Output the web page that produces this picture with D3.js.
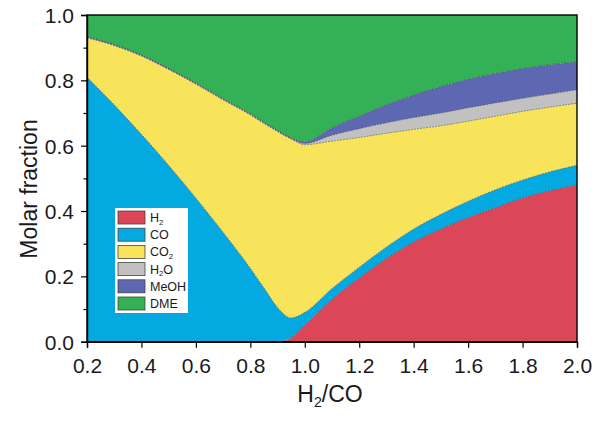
<!DOCTYPE html>
<html>
<head>
<meta charset="utf-8">
<script src="https://cdn.jsdelivr.net/npm/d3@7"></script>
<style>
  body { margin: 0; background: #fff; }
  text { font-family: Arial, "Liberation Sans", sans-serif; }
</style>
</head>
<body>
<div id="chart"></div>
<script>
// H2/CO ratio
const ratio = [0.2, 0.3, 0.4, 0.5, 0.6, 0.7, 0.8, 0.85, 0.9, 0.95, 1.0, 1.1, 1.2, 1.3, 1.4, 1.5, 1.6, 1.7, 1.8, 1.9, 2.0];

// molar fractions per species
const h2   = [0, 0, 0, 0, 0, 0, 0, 0, 0, 0.012, 0.05, 0.13, 0.195, 0.255, 0.305, 0.345, 0.38, 0.41, 0.44, 0.462, 0.48];
const co   = [0.81, 0.725, 0.635, 0.54, 0.44, 0.335, 0.225, 0.165, 0.105, 0.061, 0.04, 0.033, 0.033, 0.035, 0.04, 0.045, 0.05, 0.055, 0.055, 0.058, 0.06];
const co2  = [0.12, 0.181, 0.239, 0.293, 0.348, 0.405, 0.469, 0.503, 0.538, 0.547, 0.513, 0.451, 0.397, 0.348, 0.305, 0.271, 0.245, 0.225, 0.21, 0.198, 0.19];
const h2o  = [0.002, 0.002, 0.002, 0.002, 0.002, 0.002, 0.002, 0.002, 0.002, 0.002, 0.004, 0.018, 0.027, 0.032, 0.036, 0.039, 0.041, 0.041, 0.04, 0.04, 0.041];
const meoh = [0.002, 0.002, 0.002, 0.002, 0.002, 0.002, 0.002, 0.002, 0.002, 0.002, 0.005, 0.023, 0.038, 0.055, 0.069, 0.081, 0.087, 0.09, 0.091, 0.09, 0.086];
const dme  = [0.066, 0.09, 0.122, 0.163, 0.208, 0.256, 0.302, 0.328, 0.353, 0.376, 0.388, 0.345, 0.31, 0.275, 0.245, 0.219, 0.197, 0.179, 0.164, 0.152, 0.143];

const species = ['H2', 'CO', 'CO2', 'H2O', 'MeOH', 'DME'];
const colors = ['#db4758', '#03a9e0', '#f8e45a', '#c1c1c1', '#5e67b1', '#34b156'];

const xTicks = [0.2, 0.4, 0.6, 0.8, 1.0, 1.2, 1.4, 1.6, 1.8, 2.0];
const yTicks = [0, 0.2, 0.4, 0.6, 0.8, 1.0];
const yMinor = [0.1, 0.3, 0.5, 0.7, 0.9];

const W = 597, H = 421;
const margin = { top: 15, right: 20, bottom: 79, left: 87 };
const iw = 577 - margin.left;
const ih = 341.7 - margin.top;

const rows = ratio.map((r, i) => ({
  x: r, H2: h2[i], CO: co[i], CO2: co2[i], H2O: h2o[i], MeOH: meoh[i], DME: dme[i]
}));

const series = d3.stack().keys(species)(rows);

const x = d3.scaleLinear().domain([0.2, 2.0]).range([0, iw]);
const y = d3.scaleLinear().domain([0, 1]).range([ih, 0]);

const svg = d3.select('#chart').append('svg')
  .attr('width', W)
  .attr('height', H);

svg.append('rect').attr('width', W).attr('height', H).attr('fill', '#fff');

const g = svg.append('g').attr('transform', `translate(${margin.left},${margin.top})`);

const area = d3.area()
  .curve(d3.curveMonotoneX)
  .x(d => x(d.data.x))
  .y0(d => y(d[0]))
  .y1(d => y(Math.min(d[1], 1)));

const topLine = d3.line()
  .curve(d3.curveMonotoneX)
  .x(d => x(d.data.x))
  .y(d => y(Math.min(d[1], 1)));

g.selectAll('path.layer')
  .data(series)
  .join('path')
  .attr('class', 'layer')
  .attr('fill', (d, i) => colors[i])
  .attr('d', area);

// thin dotted boundaries between layers
g.selectAll('path.edge')
  .data(series.slice(0, 5))
  .join('path')
  .attr('class', 'edge')
  .attr('fill', 'none')
  .attr('stroke', '#333')
  .attr('stroke-width', 0.6)
  .attr('stroke-dasharray', '2,1')
  .attr('stroke-opacity', 0.8)
  .attr('d', d => topLine(d.filter(p => p[1] > 0.0005)));

// frame
g.append('rect')
  .attr('width', iw).attr('height', ih)
  .attr('fill', 'none')
  .attr('stroke', '#000')
  .attr('stroke-width', 1.4);

// axes
const xAxis = d3.axisBottom(x).tickValues(xTicks).tickFormat(d3.format('.1f')).tickSize(6).tickPadding(9);
const yAxis = d3.axisLeft(y).tickValues(yTicks).tickFormat(d3.format('.1f')).tickSize(6).tickPadding(7);

const gx = g.append('g').attr('transform', `translate(0,${ih})`).call(xAxis);
const gy = g.append('g').call(yAxis);
g.append('g').call(d3.axisLeft(y).tickValues(yMinor).tickFormat('').tickSize(3.5))
  .call(a => a.select('.domain').remove());

[gx, gy].forEach(a => {
  a.select('.domain').attr('stroke-width', 1.4);
  a.selectAll('.tick text').attr('font-size', 21).attr('fill', '#1a1a1a')
    .attr('font-family', 'Arial, "Liberation Sans", sans-serif');
});
g.selectAll('.tick line').attr('stroke-width', 1.2);
gx.selectAll('.tick text').attr('dy', '0.8em');
gy.selectAll('.tick text').attr('dy', '0.36em');

// write label with digits as subscripts
function subText(sel, label, size) {
  const shift = size * 0.22;
  let down = false;
  label.split(/(\d)/).filter(s => s.length).forEach(part => {
    const t = sel.append('tspan').text(part);
    if (/\d/.test(part)) {
      t.attr('font-size', size * 0.62).attr('dy', shift);
      down = true;
    } else if (down) {
      t.attr('dy', -shift);
      down = false;
    }
  });
}

// axis titles
const xt = svg.append('text')
  .attr('x', 330).attr('y', 402)
  .attr('text-anchor', 'middle')
  .attr('font-size', 23).attr('fill', '#1a1a1a');
subText(xt, 'H2/CO', 23);

svg.append('text')
  .attr('transform', 'translate(37,189) rotate(-90)')
  .attr('text-anchor', 'middle')
  .attr('font-size', 23).attr('fill', '#1a1a1a')
  .text('Molar fraction');

// legend
const leg = svg.append('g').attr('transform', 'translate(115,208)');
leg.append('rect').attr('width', 73).attr('height', 105).attr('fill', '#fff');
const item = leg.selectAll('g.item')
  .data(species)
  .join('g')
  .attr('class', 'item')
  .attr('transform', (d, i) => `translate(3,${3 + i * 17.2})`);
item.append('rect')
  .attr('width', 27).attr('height', 13)
  .attr('fill', (d, i) => colors[i])
  .attr('stroke', '#444').attr('stroke-width', 0.8);
item.append('text')
  .attr('x', 32).attr('y', 11)
  .attr('font-size', 12.5).attr('fill', '#1a1a1a')
  .each(function (d) { subText(d3.select(this), d, 12.5); });
</script>
</body>
</html>
